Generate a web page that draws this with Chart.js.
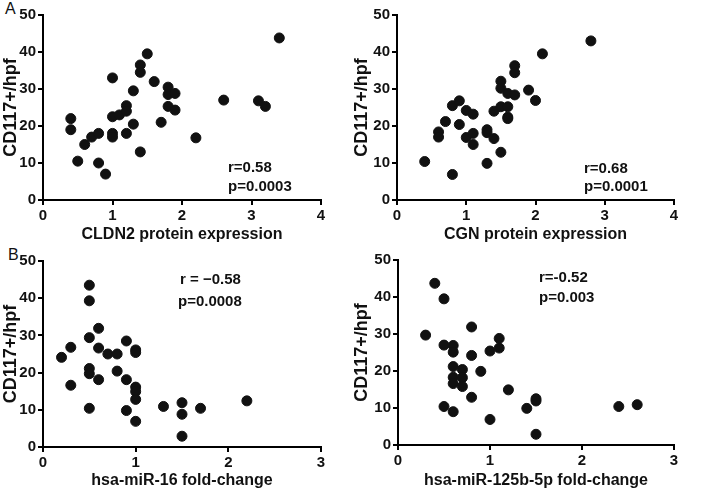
<!DOCTYPE html>
<html lang="en">
<head>
  <meta charset="UTF-8">
  <title>CD117+ correlations</title>
  <style>
    body { margin: 0; background: #fff; width: 702px; height: 491px; position: relative; overflow: hidden; }
    .panel { position: absolute; }
    .tag { position: absolute; font-family: 'Liberation Sans', Arial, sans-serif; font-size: 16px; color: #111; }
  </style>
  <script src="https://cdn.jsdelivr.net/npm/chart.js@4.4.4/dist/chart.umd.js"></script>
</head>
<body>
  <div class="tag" style="left:5px; top:0px;">A</div>
  <div class="tag" style="left:8px; top:246px;">B</div>
  <div class="panel" style="left:0; top:0;"><canvas id="chart_1" width="351" height="245"></canvas></div>
  <div class="panel" style="left:351px; top:0;"><canvas id="chart_2" width="351" height="245"></canvas></div>
  <div class="panel" style="left:0; top:245px;"><canvas id="chart_3" width="351" height="246"></canvas></div>
  <div class="panel" style="left:351px; top:245px;"><canvas id="chart_4" width="351" height="246"></canvas></div>
<script>
  // CLDN2 protein expression vs CD117+/hpf
  const cldn2X = [0.4, 0.4, 0.5, 0.6, 0.7, 0.8, 0.8, 0.9, 1.0, 1.0, 1.0, 1.0, 1.1, 1.2, 1.2, 1.2, 1.3, 1.3, 1.4, 1.4, 1.4, 1.5, 1.6, 1.7, 1.8, 1.8, 1.8, 1.9, 1.9, 2.2, 2.6, 3.1, 3.2, 3.4];
  const cldn2Y = [22, 19, 10.5, 15, 17, 18, 10, 7, 33, 22.5, 18, 17, 23, 25.5, 24, 18, 29.5, 20.5, 36.5, 34.5, 13, 39.5, 32, 21, 30.5, 28.5, 25.3, 28.8, 24.3, 16.8, 27, 26.8, 25.3, 43.8];

  // CGN protein expression vs CD117+/hpf
  const cgnX = [0.4, 0.6, 0.6, 0.7, 0.8, 0.8, 0.9, 0.9, 1.0, 1.0, 1.1, 1.1, 1.1, 1.3, 1.3, 1.3, 1.4, 1.4, 1.5, 1.5, 1.5, 1.5, 1.6, 1.6, 1.6, 1.6, 1.7, 1.7, 1.7, 1.9, 2.0, 2.1, 2.8];
  const cgnY = [10.4, 18.4, 17, 21.2, 25.5, 6.9, 26.8, 20.4, 24.2, 16.9, 23.2, 18, 15, 19, 18.2, 9.9, 24, 16.6, 32.1, 30.2, 25.2, 12.9, 28.8, 25.2, 22.4, 22, 36.3, 34.4, 28.4, 29.7, 26.9, 39.5, 43];

  // hsa-miR-16 fold-change vs CD117+/hpf
  const mir16X = [0.2, 0.3, 0.3, 0.5, 0.5, 0.5, 0.5, 0.5, 0.5, 0.6, 0.6, 0.6, 0.7, 0.8, 0.8, 0.9, 0.9, 0.9, 1.0, 1.0, 1.0, 1.0, 1.0, 1.0, 1.3, 1.5, 1.5, 1.5, 1.7, 2.2];
  const mir16Y = [24.1, 26.8, 16.6, 43.5, 39.3, 29.4, 21.1, 19.7, 10.4, 31.9, 26.6, 18.1, 25, 25, 20.4, 28.5, 18.1, 9.8, 26.1, 25.4, 16.1, 14.9, 12.8, 6.9, 10.9, 11.9, 8.8, 2.9, 10.4, 12.4];

  // hsa-miR-125b-5p fold-change vs CD117+/hpf
  const mir125X = [0.3, 0.4, 0.5, 0.5, 0.5, 0.6, 0.6, 0.6, 0.6, 0.6, 0.6, 0.7, 0.7, 0.7, 0.8, 0.8, 0.8, 0.9, 1.0, 1.0, 1.1, 1.1, 1.2, 1.4, 1.5, 1.5, 1.5, 2.4, 2.6];
  const mir125Y = [29.7, 43.7, 39.5, 27, 10.4, 26.9, 25.1, 21.2, 18.3, 16.6, 9, 20.4, 18.2, 15.8, 31.9, 24.2, 12.9, 19.9, 25.4, 6.9, 28.8, 26.2, 14.9, 9.9, 12.5, 11.9, 2.9, 10.4, 10.9];

  const yTitle = 'CD117+/hpf';
  const yMax = 50;

  Chart.defaults.font.family = "'Liberation Sans', Arial, sans-serif";
  Chart.defaults.font.weight = 'bold';
  Chart.defaults.font.size = 15;
  Chart.defaults.color = '#111';

  // draws the r / p annotation lines at given canvas pixel positions
  const statsText = {
    id: 'statsText',
    afterDraw(chart, args, opts) {
      const ctx = chart.ctx;
      ctx.save();
      ctx.font = "bold 15px 'Liberation Sans', Arial, sans-serif";
      ctx.fillStyle = '#111';
      ctx.textBaseline = 'middle';
      opts.lines.forEach(l => ctx.fillText(l.text, l.x, l.y));
      ctx.restore();
    }
  };

  function toPoints(xs, ys) {
    return xs.map((x, i) => ({ x: x, y: ys[i] }));
  }

  function visualize(id, xs, ys, xTitle, xMax, pad, lines) {
    new Chart(id, {
      type: 'scatter',
      data: {
        datasets: [{
          data: toPoints(xs, ys),
          backgroundColor: '#111',
          borderColor: '#111',
          pointRadius: 5,
          pointHoverRadius: 5
        }]
      },
      options: {
        responsive: false,
        animation: false,
        events: [],
        layout: { padding: pad },
        plugins: {
          legend: { display: false },
          tooltip: { enabled: false },
          statsText: { lines: lines }
        },
        scales: {
          x: {
            type: 'linear',
            min: 0,
            max: xMax,
            afterFit: s => { s.height = 245 - pad.top - pad.areaH; },
            ticks: { stepSize: 1, padding: 2 },
            grid: { drawOnChartArea: false, drawTicks: true, tickLength: 5, color: '#000', lineWidth: 2 },
            border: { display: true, color: '#000', width: 2 },
            title: { display: true, text: xTitle, font: { size: 16, weight: 'bold' }, padding: { top: 4, bottom: 1 } }
          },
          y: {
            type: 'linear',
            min: 0,
            max: yMax,
            afterFit: s => { s.width = pad.axisX; },
            ticks: { stepSize: 10, padding: 2 },
            grid: { drawOnChartArea: false, drawTicks: true, tickLength: 5, color: '#000', lineWidth: 2 },
            border: { display: true, color: '#000', width: 2 },
            title: { display: true, text: yTitle, font: { size: 18, weight: 'bold' }, padding: { top: 0, bottom: 2 } }
          }
        }
      },
      plugins: [statsText]
    });
  }

  visualize('chart_1', cldn2X, cldn2Y, 'CLDN2 protein expression', 4,
    { left: 0, top: 15, right: 30, bottom: 0, axisX: 43, areaH: 185 },
    [{ text: 'r=0.58', x: 228, y: 168 }, { text: 'p=0.0003', x: 228, y: 187 }]);

  visualize('chart_2', cgnX, cgnY, 'CGN protein expression', 4,
    { left: 0, top: 15, right: 28, bottom: 0, axisX: 46, areaH: 185 },
    [{ text: 'r=0.68', x: 233, y: 169 }, { text: 'p=0.0001', x: 233, y: 187 }]);

  visualize('chart_3', mir16X, mir16Y, 'hsa-miR-16 fold-change', 3,
    { left: 0, top: 16, right: 30, bottom: 0, axisX: 43, areaH: 185 },
    [{ text: 'r = \u22120.58', x: 180, y: 35 }, { text: 'p=0.0008', x: 178, y: 57 }]);

  visualize('chart_4', mir125X, mir125Y, 'hsa-miR-125b-5p fold-change', 3,
    { left: 0, top: 15, right: 28, bottom: 0, axisX: 47, areaH: 184 },
    [{ text: 'r=-0.52', x: 188, y: 33 }, { text: 'p=0.003', x: 188, y: 53 }]);
</script>
</body>
</html>
